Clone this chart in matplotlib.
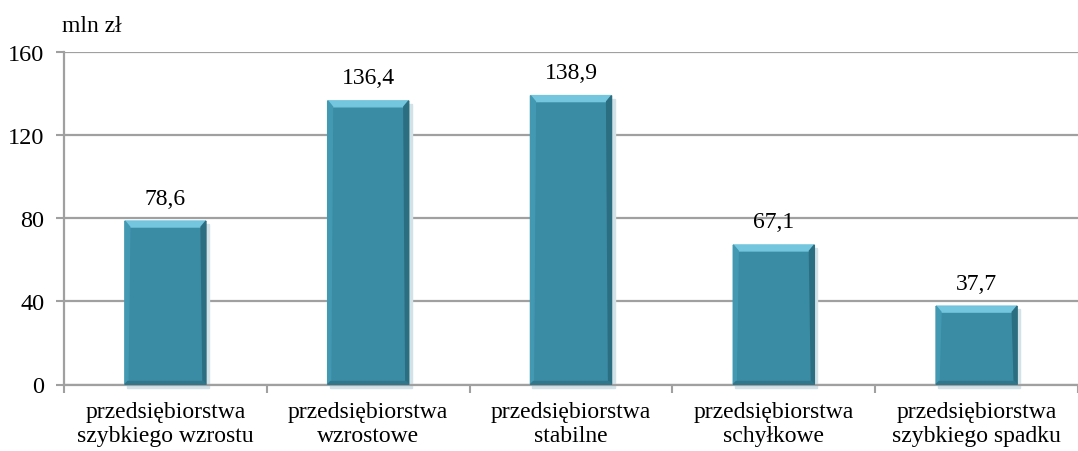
import matplotlib
matplotlib.use("Agg")
import matplotlib.pyplot as plt
from matplotlib.patches import Polygon

# data
categories = [
    "przedsiębiorstwa\nszybkiego wzrostu",
    "przedsiębiorstwa\nwzrostowe",
    "przedsiębiorstwa\nstabilne",
    "przedsiębiorstwa\nschyłkowe",
    "przedsiębiorstwa\nszybkiego spadku",
]
values = [78.6, 136.4, 138.9, 67.1, 37.7]
value_labels = ["78,6", "136,4", "138,9", "67,1", "37,7"]
y_ticks = [0, 40, 80, 120, 160]

plt.rcParams["font.family"] = ["Liberation Serif", "DejaVu Serif"]

fig = plt.figure(figsize=(10.78, 4.52), dpi=100)
ax = fig.add_axes([64 / 1078, 1 - 385.5 / 452, 1 - 64 / 1078, (385.5 - 52.7) / 452])

grid_col = "#a0a0a0"
body_col = "#3a8ba4"

xs = list(range(len(categories)))
bars = ax.bar(xs, values, width=0.4, color=body_col, edgecolor="none", zorder=3)

ax.set_xlim(-0.5, (1078 - 64) / 204.5 - 0.5)
ax.set_ylim(0, 160)

# bevel effect, sized in pixels and converted to data units
fig.canvas.draw()
px_x = (ax.get_xlim()[1] - ax.get_xlim()[0]) / ax.bbox.width
px_y = (ax.get_ylim()[1] - ax.get_ylim()[0]) / ax.bbox.height
bx, by = 5 * px_x, 6 * px_y
for b in bars:
    x0, x1 = b.get_x(), b.get_x() + b.get_width()
    h = b.get_height()
    # soft shadow
    ax.add_patch(Polygon([(x0 + 2 * px_x, -3 * px_y), (x1 + 3 * px_x, -3 * px_y),
                          (x1 + 3 * px_x, h - 3 * px_y), (x0 + 2 * px_x, h - 3 * px_y)],
                         closed=True, color="#d3e2e7", zorder=2, clip_on=False))
    top = Polygon([(x0, h), (x1, h), (x1 - bx, h - by), (x0 + bx, h - by)],
                  closed=True, color="#74c6df", zorder=4)
    right = Polygon([(x1, h), (x1, 0), (x1 - bx * 0.6, by * 0.5), (x1 - bx, h - by)],
                    closed=True, color="#2c6e81", zorder=4)
    left = Polygon([(x0, h), (x0, 0), (x0 + bx * 0.6, by * 0.5), (x0 + bx, h - by)],
                   closed=True, color="#4399b2", zorder=4)
    bottom = Polygon([(x0, 0), (x1, 0), (x1 - bx * 0.6, by * 0.5), (x0 + bx * 0.6, by * 0.5)],
                     closed=True, color="#30778c", zorder=4)
    for p in (top, right, left, bottom):
        ax.add_patch(p)

for x, v, lab in zip(xs, values, value_labels):
    ax.annotate(lab, (x, v), xytext=(0, 9), textcoords="offset points",
                ha="center", va="bottom", fontsize=17)

ax.set_yticks(y_ticks)
ax.set_yticklabels([str(t) for t in y_ticks], fontsize=17.5)
ax.yaxis.grid(True, color=grid_col, linewidth=1.6, zorder=0)
ax.set_axisbelow(True)

# category labels centred, tick marks at boundaries
ax.set_xticks(xs)
ax.set_xticklabels(categories, fontsize=17, linespacing=1.2)
ax.tick_params(axis="x", length=0, pad=12)
ax.set_xticks([x - 0.5 for x in range(len(categories) + 1)], minor=True)
ax.tick_params(axis="x", which="minor", length=6, width=1.5, color=grid_col)
ax.tick_params(axis="y", length=6, width=1.5, color=grid_col, pad=8)

for s in ("top", "right"):
    ax.spines[s].set_visible(False)
for s in ("left", "bottom"):
    ax.spines[s].set_color(grid_col)
    ax.spines[s].set_linewidth(1.6)

fig.text(62 / 1078, 1 - 27 / 452, "mln zł", fontsize=17, va="center", ha="left")

fig.savefig("out.png", dpi=100)
